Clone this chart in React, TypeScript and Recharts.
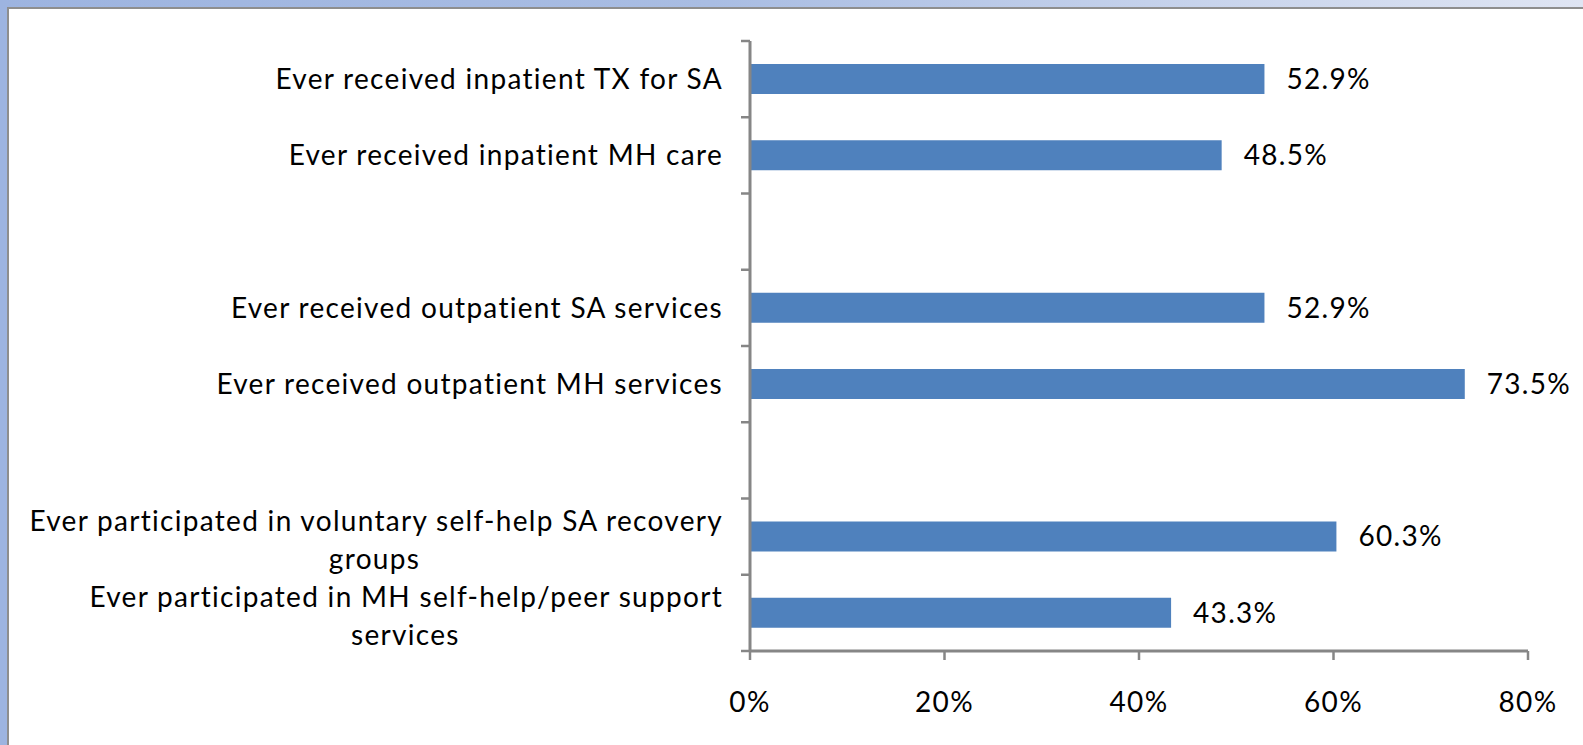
import { BarChart, Bar, XAxis, YAxis, LabelList } from 'recharts';

const categories = [
  'Ever received inpatient TX for SA',
  'Ever received inpatient MH care',
  '',
  'Ever received outpatient SA services',
  'Ever received outpatient MH services',
  '',
  'Ever participated in voluntary self-help SA recovery\ngroups',
  'Ever participated in MH self-help/peer support\nservices',
];
const percentages: Array<number | null> = [52.9, 48.5, null, 52.9, 73.5, null, 60.3, 43.3];
const xTicks = [0, 20, 40, 60, 80];

const data = categories.map((name, i) => ({ name, value: percentages[i] }));

const CHART_W = 1583;
const CHART_H = 745;
const TOP = 41;
const X_AXIS_H = 94;
const BAND = (CHART_H - TOP - X_AXIS_H) / categories.length;

const FONT = 'Lato, "Open Sans", sans-serif';
const FONT_SIZE = 28;
const SPACING = 1.3;
const LABEL_GAP = 27;
const AXIS_GREY = '#868686';

let measureCtx: CanvasRenderingContext2D | null = null;
function textWidth(s: string) {
  if (!measureCtx) measureCtx = document.createElement('canvas').getContext('2d');
  if (!measureCtx) return s.length * FONT_SIZE * 0.5;
  measureCtx.font = `${FONT_SIZE}px Lato`;
  return measureCtx.measureText(s).width + s.length * SPACING;
}

function CategoryTick({ x, y, payload, index }: any) {
  const lines: string[] = String(payload.value).split('\n');
  const common = { fontFamily: FONT, fontSize: FONT_SIZE, fill: '#000', letterSpacing: SPACING };
  const axisX = x + LABEL_GAP;
  const tickLine = { stroke: AXIS_GREY, strokeWidth: 2.5 };
  const center = x - textWidth(lines[0]) / 2;
  return (
    <g>
      <line x1={axisX - 9} x2={axisX} y1={y - BAND / 2} y2={y - BAND / 2} {...tickLine} />
      {index === categories.length - 1 && (
        <line x1={axisX - 9} x2={axisX} y1={y + BAND / 2} y2={y + BAND / 2} {...tickLine} />
      )}
      {lines.length === 1 ? (
        <text x={x} y={y} dy={10} textAnchor="end" {...common}>
          {lines[0]}
        </text>
      ) : (
        lines.map((line, i) => (
          <text
            key={i}
            x={i === 0 ? x : center}
            y={y - 6 + i * 38}
            textAnchor={i === 0 ? 'end' : 'middle'}
            {...common}
          >
            {line}
          </text>
        ))
      )}
    </g>
  );
}

export default function App() {
  return (
    <div
      style={{
        position: 'absolute',
        top: 0,
        left: 0,
        width: CHART_W,
        height: CHART_H,
        overflow: 'hidden',
        background: 'linear-gradient(90deg, #9db4e0 0%, #a9bde3 45%, #dfe5f3 100%)',
      }}
    >
      <div
        style={{
          position: 'absolute',
          top: 7,
          left: 7,
          width: 1600,
          height: 760,
          background: '#fff',
          borderTop: '2px solid #8e8e8e',
          borderLeft: '2px solid #8e8e8e',
        }}
      />
      <div style={{ position: 'absolute', top: 0, left: 0 }}>
        <BarChart
          width={CHART_W}
          height={CHART_H}
          data={data}
          layout="vertical"
          margin={{ top: TOP, right: 55, bottom: 0, left: 0 }}
          barSize={30}
        >
          <YAxis
            type="category"
            dataKey="name"
            width={750}
            interval={0}
            tickSize={0}
            tickMargin={LABEL_GAP}
            tickLine={false}
            axisLine={{ stroke: AXIS_GREY, strokeWidth: 3 }}
            tick={<CategoryTick />}
          />
          <XAxis
            type="number"
            domain={[0, 80]}
            ticks={xTicks}
            height={X_AXIS_H}
            tickFormatter={(v) => `${v}%`}
            tickSize={9}
            tickMargin={32}
            axisLine={{ stroke: AXIS_GREY, strokeWidth: 3 }}
            tickLine={{ stroke: AXIS_GREY, strokeWidth: 2.5 }}
            tick={{ fill: '#000', fontSize: FONT_SIZE, fontFamily: FONT, letterSpacing: SPACING }}
          />
          <Bar dataKey="value" fill="#4f81bd" isAnimationActive={false}>
            <LabelList
              dataKey="value"
              position="right"
              offset={22}
              fill="#000"
              fontSize={FONT_SIZE}
              fontFamily={FONT}
              letterSpacing={SPACING}
              formatter={(v: any) => (v == null ? '' : `${v}%`)}
            />
          </Bar>
        </BarChart>
      </div>
    </div>
  );
}
